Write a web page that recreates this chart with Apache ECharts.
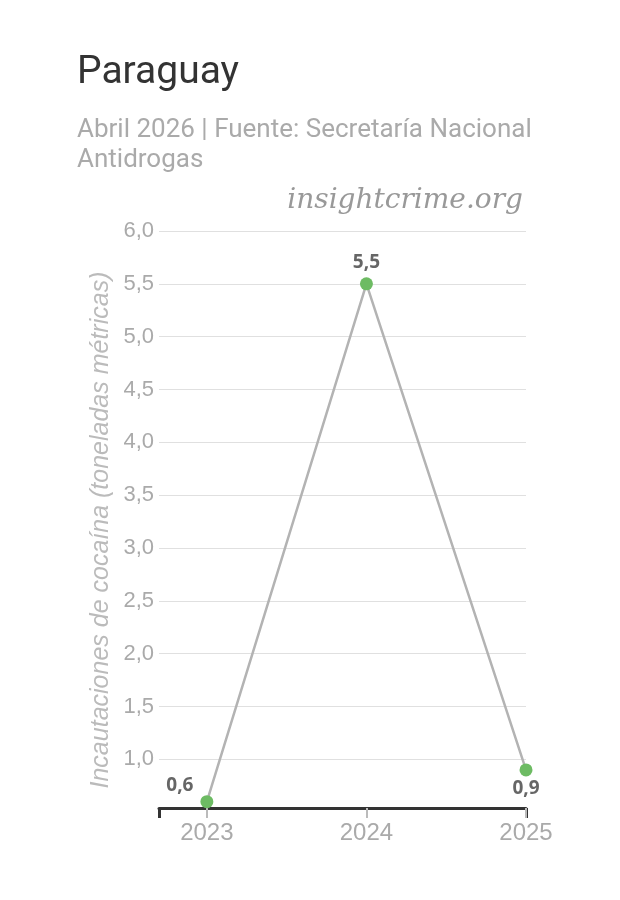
<!DOCTYPE html>
<html>
<head>
<meta charset="utf-8">
<script src="https://cdn.jsdelivr.net/npm/echarts@6/dist/echarts.min.js"></script>
<style>
html,body{margin:0;padding:0;background:#fff;}
#chart{width:620px;height:900px;}
</style>
</head>
<body>
<div id="chart"></div>
<script>
const years = [2023, 2024, 2025];
const values = [0.6, 5.5, 0.9];
const valueLabels = ['0,6', '5,5', '0,9'];
const xTicks = [2023, 2024, 2025];
const titleText = 'Paraguay';
const subtitleText = 'Abril 2026 | Fuente: Secretaría Nacional\nAntidrogas';
const brandText = 'insightcrime.org';
const yAxisTitle = 'Incautaciones de cocaína (toneladas métricas)';

const labelPlacement = [
  {position: 'top', distance: 0, offset: [-27, 0]},
  {position: 'top', distance: 5, offset: [0, 0]},
  {position: 'bottom', distance: 3, offset: [0, 0]}
];

const chart = echarts.init(document.getElementById('chart'), null, {renderer: 'canvas'});
const sans = '"Liberation Sans", Arial, sans-serif';

chart.setOption({
  animation: false,
  backgroundColor: '#ffffff',
  title: [
    {text: titleText, left: 77, top: 54, padding: 0,
     textStyle: {fontFamily: 'Roboto', fontSize: 39, fontWeight: 'normal', color: '#333333'}},
    {text: subtitleText, left: 77, top: 115, padding: 0,
     textStyle: {fontFamily: 'Roboto', fontSize: 26, fontWeight: 'normal', color: '#aaaaaa', lineHeight: 30}},
    {text: brandText, right: 97, top: 187, padding: 0,
     textStyle: {fontFamily: '"DejaVu Serif", serif', fontStyle: 'italic', fontSize: 28, fontWeight: 'normal', color: '#999999'}}
  ],
  graphic: [{
    type: 'text',
    x: 89, y: 530,
    rotation: Math.PI / 2,
    style: {text: yAxisTitle, font: 'italic 25px "Liberation Sans", Arial, sans-serif',
            fill: '#bbbbbb', align: 'center', verticalAlign: 'top'}
  }],
  grid: {left: 159, right: 94, top: 231, bottom: 92, containLabel: false},
  xAxis: [{
    type: 'value', min: 2022.7, max: 2025,
    axisLine: {show: true, lineStyle: {color: '#333333', width: 3}},
    axisTick: {show: true, customValues: [2022.7, 2025], length: 10, lineStyle: {color: '#333333', width: 3}},
    axisLabel: {show: false},
    splitLine: {show: false}
  }, {
    type: 'value', min: 2022.7, max: 2025, position: 'bottom', offset: 0,
    axisLine: {show: false},
    axisTick: {show: true, customValues: xTicks, length: 10, lineStyle: {color: '#bbbbbb', width: 2}},
    axisLabel: {show: true, customValues: xTicks, margin: 13, fontFamily: sans, fontSize: 24, color: '#aaaaaa',
                formatter: v => String(v)},
    splitLine: {show: false}
  }],
  yAxis: {
    type: 'value', min: 0.54, max: 6, splitNumber: 11,
    axisLine: {show: false},
    axisTick: {show: false},
    axisLabel: {showMinLabel: false, margin: 5, fontFamily: sans, fontSize: 22, color: '#aaaaaa',
                formatter: v => v.toFixed(1).replace('.', ',')},
    splitLine: {show: true, lineStyle: {color: '#e0e0e0', width: 1}}
  },
  series: [{
    type: 'line',
    xAxisIndex: 0,
    data: years.map((y, i) => ({
      value: [y, values[i]],
      label: Object.assign({show: true, formatter: valueLabels[i]}, labelPlacement[i])
    })),
    symbol: 'circle', symbolSize: 13,
    itemStyle: {color: '#6dbb63'},
    lineStyle: {color: '#b3b3b3', width: 2.5},
    label: {fontFamily: '"Open Sans", sans-serif', fontWeight: 'bold', fontSize: 19, color: '#666666'},
    z: 5
  }]
});
</script>
</body>
</html>
